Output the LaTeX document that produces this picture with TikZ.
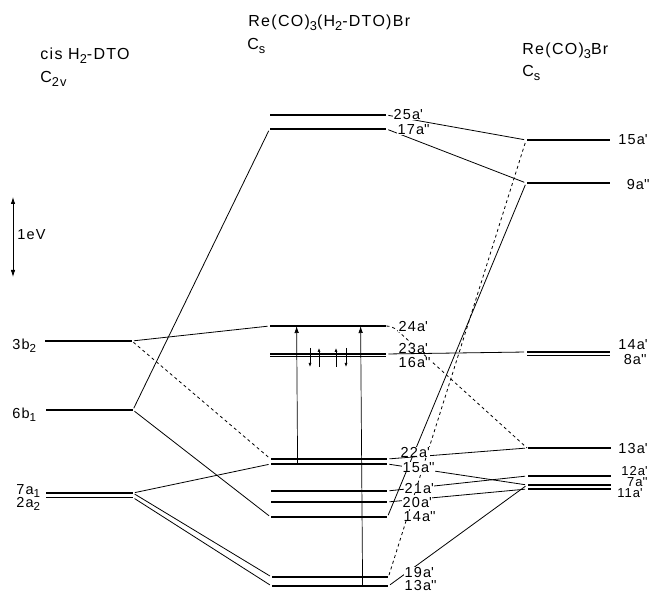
\documentclass[tikz,border=0pt]{standalone}
\usepackage{fontspec}
\setmainfont{Liberation Sans}[LetterSpace=8]
\usetikzlibrary{arrows.meta}
\newcommand\prm{\textquotesingle}
\newcommand\sbs[1]{\raisebox{-0.45ex}{\scalebox{0.8}{#1}}}

\begin{document}
\begin{tikzpicture}[
    x=1pt, y=-1pt,
    font=\fontsize{14.5}{17}\selectfont,
    >={Latex[length=7pt,width=4.5pt]},
    line width=0.8pt,
    orb/.style={fill, draw=none, inner sep=0pt, minimum height=1.5pt, minimum width=#1},
    orbL/.style={orb=87pt},
    orbM/.style={orb=116pt},
    orbR/.style={orb=83pt},
    lab/.style={anchor=base west, fill=white, inner sep=0.3pt},
    labR/.style={anchor=base east, inner sep=0pt},
    labS/.style={labR, font=\fontsize{13}{15}\selectfont},
    title/.style={anchor=base west, font=\fontsize{16}{19}\selectfont, inner sep=0pt},
    corr/.style={shorten <=2pt, shorten >=2pt},
    spin/.style={line width=0.6pt, -{Latex[length=4pt,width=3pt]}}
]
\useasboundingbox (0,0) rectangle (653,593);

\node[title] (tL) at (40,60) {cis H\sbs{2}-DTO};
\node[title] (tLs) at (40,83) {C\sbs{2v}};
\node[title] (tM) at (248,27) {Re(CO)\sbs{3}(H\sbs{2}-DTO)Br};
\node[title] (tMs) at (247,50) {C\sbs{s}};
\node[title] (tR) at (522,55) {Re(CO)\sbs{3}Br};
\node[title] (tRs) at (522,77) {C\sbs{s}};

\coordinate (evtop) at (13,197);
\coordinate (evbot) at (13,277);
\draw[<->] (evtop) -- (evbot);
\node[anchor=west, inner sep=0pt] (ev) at (17,235) {1eV};

\node[orbL] (l3b2) at (88,341) {};
\node[orbL] (l6b1) at (89,410) {};
\node[orbL] (l7a1) at (89,493) {};
\node[orbL] (l2a2) at (89,497.5) {};
\node[anchor=base west, inner sep=0pt] (n3b2) at (12,349) {3b\sbs{2}};
\node[anchor=base west, inner sep=0pt] (n6b1) at (12,418) {6b\sbs{1}};
\node[anchor=base west, inner sep=0pt] (n7a1) at (16,494) {7a\sbs{1}};
\node[anchor=base west, inner sep=0pt] (n2a2) at (16,507) {2a\sbs{2}};

\node[orbM] (m25) at (328,115) {};
\node[orbM] (m17) at (328,129) {};
\node[orbM] (m24) at (328,326) {};
\node[orbM] (m23) at (328,354) {};
\node[orbM] (m16) at (328,356.5) {};
\node[orbM] (m22) at (329,459) {};
\node[orbM] (m15) at (329,464) {};
\node[orbM] (m21) at (329,491) {};
\node[orbM] (m20) at (329,502) {};
\node[orbM] (m14) at (329,517) {};
\node[orbM] (m19) at (330,577) {};
\node[orbM] (m13) at (330,586) {};

\node[orbR] (r15) at (568,140) {};
\node[orbR] (r9) at (568,183) {};
\node[orbR] (r14) at (568,352) {};
\node[orbR] (r8) at (568,355.5) {};
\node[orbR] (r13) at (569,448) {};
\node[orbR] (r12) at (569,476) {};
\node[orbR] (r7) at (569,485) {};
\node[orbR] (r11) at (569,489) {};

\draw[corr] (l3b2.east) -- (m24.west);
\draw[corr, dashed] (l3b2.east) -- (m22.west);
\draw[corr] (l6b1.east) -- (m17.west);
\draw[corr] (l6b1.east) -- (m14.west);
\draw[corr] (l7a1.east) -- (m15.west);
\draw[corr] (l7a1.east) -- (m19.west);
\draw[corr] (l2a2.east) -- (m13.west);

\draw[corr] (m25.east) -- (r15.west);
\draw[corr] (m17.east) -- (r9.west);
\draw[dashed, rounded corners=6pt] (m24.east) -- ++(6,0) -- (r13.west);
\draw[corr] (m23.east) -- (r14.west);
\draw[corr] (m22.east) -- (r13.west);
\draw[corr] (m15.east) -- (r7.west);
\draw[corr] (m21.east) -- (r12.west);
\draw[corr] (m20.east) -- (r11.west);
\draw[corr] (m14.east) -- (r9.west);
\draw[corr, dashed] (m19.east) -- (r15.west);
\draw[corr] (m13.east) -- (r7.west);

\draw[->, line width=0.7pt] ([xshift=27pt]m15.west) -- ([xshift=27pt]m24.west);
\draw[->, line width=0.7pt] ([xshift=91pt]m13.west) -- ([xshift=91pt]m24.west);
\foreach \x/\ya/\yb in {310/348/367, 319/367/348, 336/367/348, 346/348/367}
  \draw[spin] (\x,\ya) -- (\x,\yb);

\node[lab] (n25) at (393,120) {25a\prm};
\node[lab] (n17) at (397,135) {17a\prm\prm};
\node[lab] (n24) at (398,332) {24a\prm};
\node[lab] (n23) at (398,353) {23a\prm};
\node[lab] (n16) at (398,367) {16a\prm\prm};
\node[lab] (n22) at (400,457) {22a\prm};
\node[lab] (n15) at (402,472) {15a\prm\prm};
\node[lab] (n21) at (404,493) {21a\prm};
\node[lab] (n20) at (402,507) {20a\prm};
\node[lab] (n14) at (403,521) {14a\prm\prm};
\node[lab] (n19) at (404,577.5) {19a\prm};
\node[lab] (n13) at (404,590.5) {13a\prm\prm};

\node[labR] (q15) at (648,145) {15a\prm};
\node[labR] (q9) at (650,190) {9a\prm\prm};
\node[labR] (q14) at (648,350) {14a\prm};
\node[labR] (q8) at (647,365) {8a\prm\prm};
\node[labR] (q13) at (648,453) {13a\prm};
\node[labS] (q12) at (648,475.5) {12a\prm};
\node[labS] (q7) at (648,486.5) {7a\prm\prm};
\node[labS] (q11) at (643,497.5) {11a\prm};
\end{tikzpicture}
\end{document}
